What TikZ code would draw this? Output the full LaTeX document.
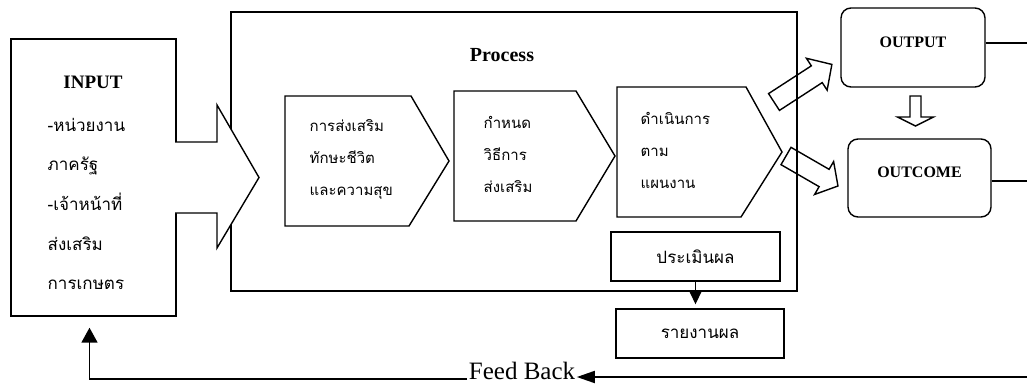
\documentclass[tikz,border=0pt]{standalone}
\usepackage{fontspec}
\setmainfont{Liberation Serif}
\newfontfamily\thai[Script=Thai]{Loma}
\usetikzlibrary{arrows.meta,positioning}

\tikzset{
  box/.style={draw, inner sep=0pt},
  thaitext/.style={font=\thai\fontsize{15}{32}\selectfont, align=left, anchor=west, inner sep=0pt},
  outbox/.style={draw, rounded corners=10pt, font=\bfseries\fontsize{16}{18}\selectfont, text depth=11pt},
  blockarrow/.style={draw},
  feed/.style={line width=1.8pt},
}

\begin{document}
\begin{tikzpicture}[x=1pt, y=-1pt, line width=1.4pt]
\useasboundingbox (0,0) rectangle (1027,385);

% process frame
\node[box, minimum width=566pt, minimum height=279pt] (process) at (514,151.5) {};
\node[font=\bfseries\fontsize{20}{24}\selectfont] (ptitle) at (502,55) {Process};

% input box with its arrow
\node[box, minimum width=165pt, minimum height=277pt] (input) at (93.5,177.5) {};
\draw[fill=white] (175,142) -- (217,142) -- (217,105) -- (259,177.5) -- (217,248) -- (217,213) -- (175,213);
\node[font=\bfseries\fontsize{19}{22}\selectfont] (intitle) at (93,82) {INPUT};
\node[thaitext, font=\thai\fontsize{17}{39.7}\selectfont] (inbody) at (47,204)
  {-หน่วยงาน\\ภาครัฐ\\-เจ้าหน้าที่\\ส่งเสริม\\การเกษตร};

% three steps
\draw (285,96) -- (411,96) -- (449,161) -- (409,226) -- (285,226) -- cycle;
\draw (454,91) -- (576,91) -- (615,156) -- (576,221) -- (454,221) -- cycle;
\draw (617,87) -- (746,87) -- (782,152) -- (741,217) -- (617,217) -- cycle;
\node[thaitext] (stepa) at (309,159) {การส่งเสริม\\ทักษะชีวิต\\และความสุข};
\node[thaitext] (stepb) at (483,154) {กำหนด\\วิธีการ\\ส่งเสริม};
\node[thaitext] (stepc) at (640,150) {ดำเนินการ\\ตาม\\แผนงาน};

% evaluation and report
\node[box, minimum width=169pt, minimum height=49pt, font=\thai\fontsize{17}{20}\selectfont] (eval) at (695.5,256.5) {ประเมินผล};
\node[box, minimum width=168pt, minimum height=49pt, font=\thai\fontsize{17}{20}\selectfont] (report) at (700,333.5) {รายงานผล};
\draw[-{Triangle[width=13pt,length=14pt]}, shorten >=4pt] (eval.south) -- (eval.south |- report.north);

% output and outcome
\node[outbox, minimum width=144pt, minimum height=79pt] (output) at (913,47.5) {OUTPUT};
\node[outbox, minimum width=143pt, minimum height=78pt] (outcome) at (919.5,178) {OUTCOME};
\coordinate (outR) at (1027,43);
\coordinate (comeR) at (1027,181);
\draw (outR -| output.east) -- (outR);
\draw (comeR -| outcome.east) -- (comeR);

% block arrows
\draw[blockarrow, shift={(774,102)}, rotate=33] (0,-10) -- (51,-10) -- (51,-19) -- (69,0) -- (51,19) -- (51,10) -- (0,10) -- cycle;
\draw[blockarrow, shift={(786,156)}, rotate=-30] (0,-10) -- (44,-10) -- (44,-19) -- (60,0) -- (44,19) -- (44,10) -- (0,10) -- cycle;
\draw[blockarrow, shift={(915.5,96)}, rotate=-90] (0,-5.5) -- (21,-5.5) -- (21,-18) -- (30,0) -- (21,18) -- (21,5.5) -- (0,5.5) -- cycle;

% feed back
\node[font=\fontsize{25}{28}\selectfont, inner sep=1pt, anchor=base] (feed) at (522,379) {Feed Back};
\coordinate (fbR) at (1027,377);
\draw[feed, -{Triangle[width=12pt,length=18pt]}] (fbR) -- (fbR -| feed.east);
\draw[feed, -{Triangle[width=16pt,length=15pt]}, shorten >=11pt] (feed.base west) -| ([xshift=-4pt]input.south);
\end{tikzpicture}
\end{document}
